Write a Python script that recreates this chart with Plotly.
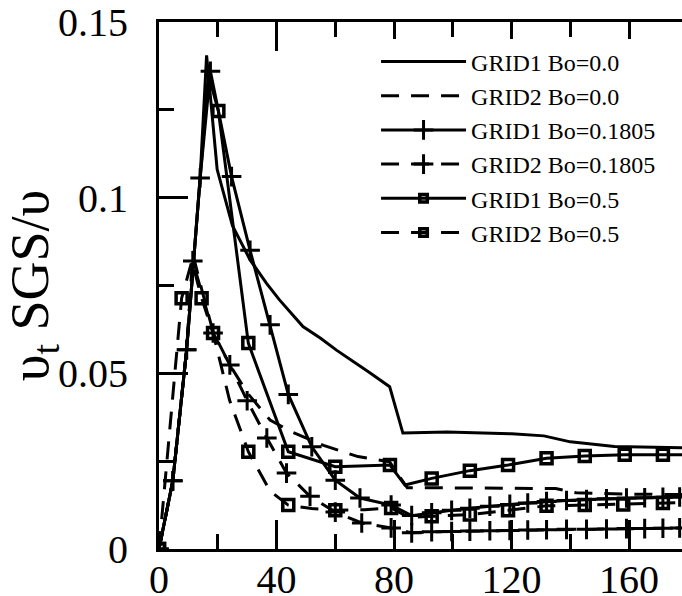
import plotly.graph_objects as go

# ---------------- data ----------------
g1_b00_x = [0, 4.7, 9.4, 14.0, 16.2, 19.8, 25.0, 31.0, 36.6, 41.0, 49.0, 55.0, 60.4, 66.0, 72.0, 78.5,
            83.0, 98.0, 120.0, 131.0, 140.0, 155.0, 178.0]
g1_b00_y = [0, 0.0194, 0.0567, 0.1056, 0.1405, 0.108, 0.092, 0.0823, 0.0756, 0.0709, 0.0633, 0.060, 0.0566,
            0.0533, 0.050, 0.0462, 0.0330, 0.0333, 0.0328, 0.0322, 0.0305, 0.0292, 0.0288]

g2_b00_x = [0, 4.7, 9.4, 11.5, 14.5, 18.4, 24.1, 30.0, 37.8, 45.0, 56.0, 67.7, 78.5, 84.5, 100.0, 120.0,
            135.0, 142.0, 160.0, 178.0]
g2_b00_y = [0, 0.0194, 0.0567, 0.084, 0.074, 0.0618, 0.0524, 0.0445, 0.0367, 0.0334, 0.0295, 0.0263,
            0.0248, 0.0174, 0.0174, 0.0174, 0.0172, 0.0160, 0.0156, 0.0155]

g1_b18_x = [0, 4.7, 9.4, 14.0, 17.5, 24.7, 31.0, 37.8, 44.0, 52.0, 60.0, 68.4, 79.0, 86.0, 92.8, 99.6,
            105.8, 112.6, 119.4, 125.5, 131.9, 138.7, 145.5, 152.3, 159.1, 165.3, 171.5, 177.2]
g1_b18_y = [0, 0.0194, 0.0567, 0.1056, 0.136, 0.106, 0.085, 0.0638, 0.044, 0.0291, 0.0196, 0.0145, 0.0125,
            0.0095, 0.0103, 0.0110, 0.0116, 0.0122, 0.0127, 0.0131, 0.0135, 0.0138, 0.0141, 0.0143, 0.0145,
            0.0146, 0.0147, 0.0148]
g1_b18_marked = [True] * len(g1_b18_x)

g2_b18_x = [0, 4.7, 9.4, 11.5, 18.4, 24.1, 30.0, 36.7, 43.4, 51.4, 60.0, 69.0, 79.0, 86.0, 92.8, 99.6,
            105.8, 112.6, 119.4, 125.5, 131.9, 138.7, 145.5, 152.3, 159.1, 165.3, 171.5, 177.2]
g2_b18_y = [0, 0.0194, 0.0567, 0.082, 0.0615, 0.0524, 0.0422, 0.0316, 0.0216, 0.0150, 0.0105, 0.0074,
            0.0060, 0.0046, 0.0049, 0.0050, 0.0051, 0.0052, 0.0053, 0.0054, 0.0055, 0.0056, 0.0056, 0.0057,
            0.0058, 0.0058, 0.0059, 0.0060]
g2_b18_marked = [True] * len(g2_b18_x)

g1_b05_x = [0, 4.7, 9.4, 14.0, 16.8, 20.2, 30.4, 44.0, 60.0, 78.6, 83.7, 92.8, 105.8, 118.8, 131.9, 144.9,
            158.5, 171.5, 178.0]
g1_b05_y = [0, 0.0194, 0.0567, 0.1056, 0.135, 0.1247, 0.0586, 0.0277, 0.0234, 0.0239, 0.0182, 0.0201,
            0.0223, 0.0239, 0.0258, 0.0265, 0.0268, 0.0268, 0.0268]
g1_b05_marked = [True, False, False, False, False, True, True, True, True, True, False, True, True, True,
                 True, True, True, True, False]

g2_b05_x = [0, 7.7, 11.2, 14.5, 18.4, 24.0, 30.4, 37.8, 44.0, 52.0, 60.0, 70.0, 79.0, 85.0, 92.8, 105.8,
            118.8, 131.9, 144.9, 158.0, 171.5, 178.0]
g2_b05_y = [0, 0.0714, 0.082, 0.0714, 0.0615, 0.0424, 0.0277, 0.0165, 0.0125, 0.0115, 0.0110, 0.0112,
            0.0117, 0.0090, 0.0093, 0.0098, 0.0110, 0.0123, 0.0125, 0.0127, 0.0131, 0.0132]
g2_b05_marked = [True, True, False, True, True, False, True, False, True, False, True, False, True, False,
                 True, True, True, True, True, True, True, False]

names = ["GRID1 Bo=0.0", "GRID2 Bo=0.0", "GRID1 Bo=0.1805", "GRID2 Bo=0.1805", "GRID1 Bo=0.5", "GRID2 Bo=0.5"]

# ---------------- styles ----------------
LW = 3
DASH = "18px,12px"
FONT = "Liberation Serif, Times New Roman, serif"


def msizes(marked, size):
    return [size if m else 0 for m in marked]


def add_series(x, y, name, dash, symbol=None, marked=None, size=0, mlw=3):
    line = dict(color="black", width=LW)
    if dash:
        line["dash"] = DASH
    if symbol is None:
        fig.add_trace(go.Scatter(x=x, y=y, name=name, mode="lines", line=line))
    else:
        fig.add_trace(go.Scatter(x=x, y=y, name=name, mode="lines+markers", line=line,
                                 marker=dict(symbol=symbol, color="black", opacity=1,
                                             size=msizes(marked, size),
                                             line=dict(color="black", width=mlw))))


fig = go.Figure()
add_series(g1_b00_x, g1_b00_y, names[0], False)
add_series(g2_b00_x, g2_b00_y, names[1], True)
add_series(g1_b18_x, g1_b18_y, names[2], False, "cross-thin-open", g1_b18_marked, 14, 3)
add_series(g2_b18_x, g2_b18_y, names[3], True, "cross-thin-open", g2_b18_marked, 14, 3)
add_series(g1_b05_x, g1_b05_y, names[4], False, "square-open", g1_b05_marked, 11, 3.5)
add_series(g2_b05_x, g2_b05_y, names[5], True, "square-open", g2_b05_marked, 11, 3.5)

fig.update_layout(
    width=682, height=596,
    margin=dict(l=159, r=0, t=22, b=47, autoexpand=False),
    paper_bgcolor="white", plot_bgcolor="white",
    font=dict(family=FONT, color="black"),
    showlegend=True,
    legend=dict(x=0.415, y=0.967, xanchor="left", yanchor="top",
                bgcolor="white", borderwidth=0, font=dict(family=FONT, size=24, color="black"),
                tracegroupgap=0, itemwidth=85),
)
fig.update_xaxes(
    range=[0, 178], tick0=0, dtick=40, ticks="inside", ticklen=29, tickwidth=2.5, tickcolor="black",
    showline=True, linewidth=3, linecolor="black", mirror="ticks",
    showgrid=False, zeroline=False, automargin=False, ticklabelstandoff=-7,
    tickfont=dict(family=FONT, size=40, color="black"),
    minor=dict(dtick=20, tick0=0, ticks="inside", ticklen=15, tickwidth=2.5, tickcolor="black", showgrid=False),
)
fig.update_yaxes(
    range=[0, 0.15], tick0=0, dtick=0.05, ticks="inside", ticklen=29, tickwidth=2.5, tickcolor="black",
    showline=True, linewidth=3, linecolor="black", mirror=False,
    showgrid=False, zeroline=False, ticklabelstandoff=20, automargin=False,
    tickfont=dict(family=FONT, size=40, color="black"),
    minor=dict(dtick=0.025, tick0=0, ticks="inside", ticklen=15, tickwidth=2.5, tickcolor="black", showgrid=False),
    title=dict(text="υ<sub>t</sub> SGS/υ", font=dict(family=FONT, size=54, color="black"), standoff=0),
)

fig.write_html("out.html", config={"displayModeBar": False},
               post_script="document.body.style.margin='0px';")
